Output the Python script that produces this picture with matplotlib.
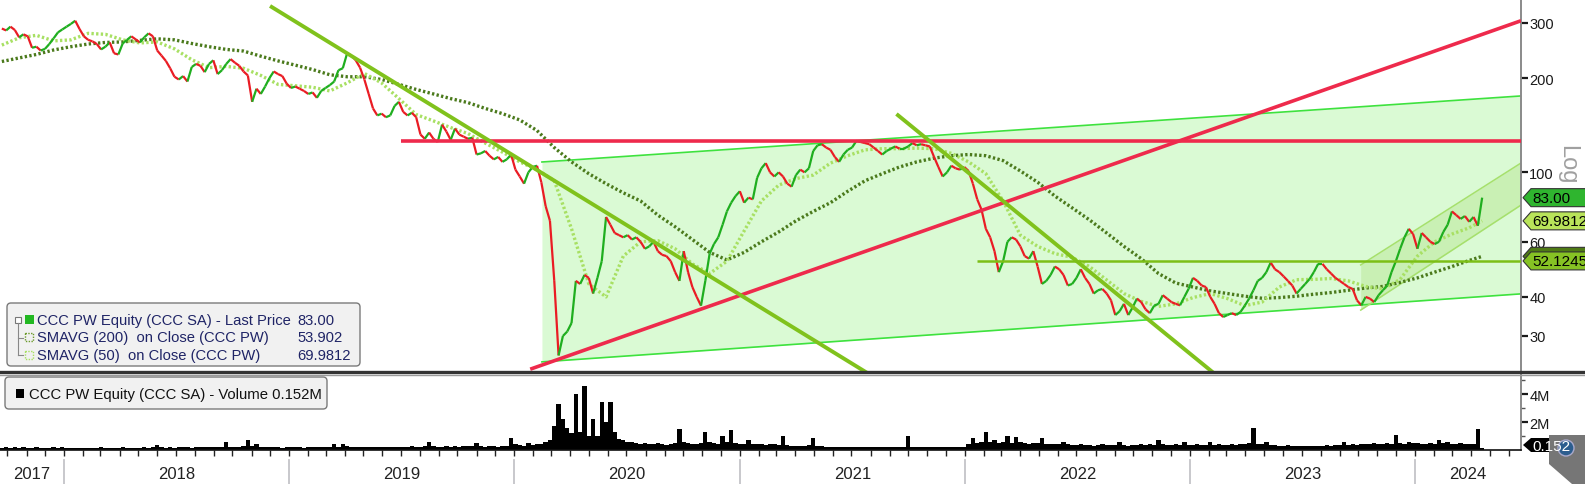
import numpy as np
import pandas as pd
import matplotlib
matplotlib.use("Agg")
import matplotlib.pyplot as plt
import matplotlib.dates as mdates
from matplotlib.collections import LineCollection
from matplotlib.patches import FancyBboxPatch, Polygon, Rectangle, Circle
from matplotlib.transforms import Affine2D, blended_transform_factory
from matplotlib.ticker import FixedLocator, FixedFormatter, NullLocator

W, H = 1585, 485

# weekly closes (CCC PW), first week ending 2017-09-22
start_date = "2017-09-22"
close = [
    288, 284, 292, 285, 270, 276, 272, 250, 252, 245,
    248, 257, 268, 280, 286, 292, 298, 305, 287, 272,
    265, 262, 257, 247, 252, 260, 240, 238, 258, 265,
    272, 266, 260, 270, 278, 272, 245, 236, 227, 215,
    202, 198, 203, 195, 217, 222, 219, 209, 222, 228,
    206, 212, 222, 230, 224, 219, 210, 204, 168, 185,
    178, 188, 200, 210, 206, 203, 192, 186, 188, 185,
    182, 178, 180, 173, 182, 186, 190, 195, 212, 215,
    240, 236, 228, 216, 198, 178, 160, 152, 154, 150,
    152, 163, 168, 156, 152, 155, 150, 132, 128, 134,
    128, 125, 142, 135, 127, 138, 132, 130, 128, 129,
    114, 115, 117, 113, 110, 112, 108, 110, 114, 102,
    97, 92, 100, 104, 105, 93, 78, 70, 45, 26,
    30, 31, 33, 45, 44, 47, 46, 41, 46, 52,
    72, 68, 64, 63, 62, 63, 61, 62, 60, 57,
    58, 60, 56, 54.5, 54, 52, 48, 45, 56, 48,
    43, 40, 37.5, 45, 55, 59, 62, 68, 75, 80,
    84, 87, 80, 83, 82, 96, 103, 107, 100, 97,
    100, 97, 92, 90, 98, 102, 100, 103, 117, 122,
    123, 120, 118, 112, 108, 114, 118, 120, 126, 125,
    124, 123, 120, 117, 114, 117, 119, 121, 119, 119,
    121, 124, 122, 123, 122, 121, 112, 104, 97, 100,
    105, 103, 102, 104, 101, 92, 82, 76, 66, 62,
    56, 48, 52, 60, 62, 61, 58, 54, 53, 56,
    50, 44, 45, 47, 50, 49, 47, 43.5, 44, 46,
    49, 46, 44, 41, 42, 42.4, 41, 39, 35, 36,
    38, 35, 37, 39.5, 38.5, 36.5, 35.5, 37.5, 38, 40.5,
    39.5, 38.5, 38, 37.6, 40, 42.5, 46, 45, 43.5, 43,
    40, 38, 35.5, 34.5, 35, 35.5, 35, 35.8, 37.5, 39.5,
    42, 45, 46, 48, 51.5, 49, 48, 46.5, 45, 43.5,
    41, 42.5, 44, 45.6, 48, 51, 51, 49, 47.5, 46,
    45, 44, 43, 42.4, 39, 37.6, 40, 39.5, 38.5, 40.5,
    42, 43.5, 48, 52, 57, 62, 66, 63.5, 57, 64,
    62, 60, 59, 60, 64.5, 68, 75, 73, 71, 72.5,
    69.5, 72, 67.5, 83,
]

# moving averages read every 4th week plus the last week
sma200 = [
    226, 232, 238, 246, 252, 257, 260, 261, 264, 267,
    265, 258, 252, 247, 244, 235, 227, 220, 213, 205,
    202, 202, 198, 191, 184, 178, 172, 167, 160, 154,
    147, 136, 120, 108, 99, 92, 86, 81, 73, 67,
    61, 55.5, 52.5, 55.5, 60, 64.5, 70, 75, 80, 87,
    94, 99, 104, 108, 111, 113, 114, 113, 109, 101,
    93, 84, 77, 70.5, 64, 58, 53, 47.5, 44.3, 43,
    41.8, 41, 40.2, 39.6, 39.8, 40.2, 40.8, 41.3, 42, 42.7,
    43.2, 44.5, 46, 48, 50, 52.3, 53.9,
]
sma50 = [
    255, 269, 274, 263, 265, 278, 276, 265, 259, 261,
    248, 229, 216, 218, 215, 204, 191, 189, 187, 182,
    193, 207, 193, 172, 153, 146, 139, 133, 124, 116,
    108, 102, 94, 66, 44, 40, 54, 60, 60.5, 57,
    51, 47.5, 52, 65, 81, 91, 95.5, 98, 107, 113,
    118, 119, 119, 119.5, 119, 115, 108, 99, 81, 63,
    58, 55, 53.5, 50, 45.3, 41, 38.7, 37.3, 38, 39.8,
    41, 39.5, 37.5, 38.5, 43, 45.4, 45.5, 45.8, 45, 43.2,
    42.4, 45.5, 54, 60, 63.5, 66.5, 70,
]

# weekly volume, millions of shares
volume_m = [
    0.15, 0.18, 0.14, 0.2, 0.16, 0.22, 0.15, 0.17, 0.19, 0.14,
    0.16, 0.13, 0.18, 0.15, 0.2, 0.14, 0.17, 0.15, 0.13, 0.16,
    0.14, 0.12, 0.15, 0.18, 0.13, 0.15, 0.16, 0.14, 0.2, 0.15,
    0.17, 0.14, 0.16, 0.19, 0.15, 0.22, 0.35, 0.2, 0.16, 0.18,
    0.17, 0.22, 0.18, 0.2, 0.16, 0.24, 0.2, 0.18, 0.22, 0.19,
    0.21, 0.25, 0.55, 0.22, 0.2, 0.18, 0.3, 0.7, 0.28, 0.4,
    0.25, 0.2, 0.22, 0.18, 0.2, 0.17, 0.22, 0.19, 0.2, 0.18,
    0.16, 0.2, 0.18, 0.22, 0.2, 0.19, 0.24, 0.4, 0.22, 0.4,
    0.3, 0.25, 0.22, 0.2, 0.24, 0.18, 0.22, 0.25, 0.2, 0.22,
    0.21, 0.19, 0.24, 0.2, 0.22, 0.26, 0.2, 0.23, 0.28, 0.6,
    0.3, 0.25, 0.22, 0.28, 0.24, 0.3, 0.22, 0.26, 0.3, 0.28,
    0.5, 0.26, 0.24, 0.3, 0.27, 0.25, 0.3, 0.28, 0.85, 0.4,
    0.35, 0.3, 0.5, 0.35, 0.4, 0.45, 0.6, 0.7, 1.7, 3.3,
    2.2, 1.6, 1.2, 4.0, 1.3, 4.6, 1.0, 2.2, 1.0, 3.4,
    2.0, 3.4, 1.3, 0.8, 0.7, 0.55, 0.6, 0.5, 0.45, 0.5,
    0.4, 0.45, 0.5, 0.42, 0.38, 0.45, 0.5, 1.5, 0.6, 0.5,
    0.45, 0.4, 0.5, 1.3, 0.55, 0.5, 0.45, 1.0, 0.6, 1.4,
    0.5, 0.45, 0.4, 0.7, 0.42, 0.4, 0.45, 0.38, 0.42, 0.4,
    0.38, 1.0, 0.35, 0.3, 0.32, 0.28, 0.3, 0.33, 0.85, 0.3,
    0.28, 0.25, 0.22, 0.25, 0.2, 0.23, 0.25, 0.22, 0.2, 0.24,
    0.22, 0.2, 0.25, 0.22, 0.2, 0.24, 0.21, 0.2, 0.23, 0.22,
    1.0, 0.25, 0.22, 0.2, 0.24, 0.22, 0.2, 0.22, 0.25, 0.2,
    0.18, 0.2, 0.22, 0.2, 0.45, 0.85, 0.5, 0.6, 1.3, 0.55,
    0.7, 0.5, 0.55, 1.0, 0.5, 0.9, 0.55, 0.5, 0.45, 0.5,
    0.48, 0.85, 0.45, 0.4, 0.42, 0.45, 0.6, 0.4, 0.38, 0.35,
    0.4, 0.35, 0.38, 0.32, 0.35, 0.4, 0.33, 0.35, 0.38, 0.6,
    0.35, 0.32, 0.38, 0.35, 0.4, 0.36, 0.42, 0.38, 0.7, 0.4,
    0.35, 0.38, 0.42, 0.36, 0.55, 0.38, 0.35, 0.4, 0.36, 0.38,
    0.55, 0.36, 0.4, 0.35, 0.38, 0.42, 0.36, 0.4, 0.45, 0.5,
    1.6, 0.45, 0.4, 0.55, 0.38, 0.35, 0.32, 0.3, 0.33, 0.3,
    0.28, 0.3, 0.32, 0.3, 0.28, 0.32, 0.3, 0.35, 0.32, 0.38,
    0.35, 0.6, 0.38, 0.4, 0.36, 0.42, 0.45, 0.4, 0.48, 0.42,
    0.45, 0.5, 0.42, 1.1, 0.5, 0.45, 0.55, 0.48, 0.5, 0.45,
    0.42, 0.5, 0.45, 0.7, 0.48, 0.55, 0.45, 0.42, 0.5, 0.45,
    0.42, 0.45, 1.5, 0.152,
]

# hand-drawn studies: (dates, prices)
red_level = (["2019-07-01", "2024-06-21"], [125.5, 125.5])
red_trend = (["2020-01-27", "2024-06-21"], [23.5, 305])
green_trend_1 = (["2018-12-01", "2021-08-11"], [340, 21.9])
green_trend_2 = (["2021-09-12", "2023-02-20"], [153.6, 21.9])
olive_level = (["2022-01-20", "2024-06-21"], [52.1245, 52.1245])
channel_dates = ["2020-02-15", "2024-06-21"]
channel_top = [107.9, 175.4]
channel_bottom = [24.8, 40.9]
small_dates = ["2023-10-05", "2024-06-21"]
small_top = [50.6, 107.1]
small_bottom = [36.3, 78.6]

# last-value tags; the 53.902 tag sits almost fully under the 52.1245 one
last_labels = [("", 53.902, "#4f7a14"), ("52.1245", 52.1245, "#86c224"),
               ("69.9812", 69.9812, "#b9e45a"), ("83.00", 83.00, "#2fb52f")]

years = [2017, 2018, 2019, 2020, 2021, 2022, 2023, 2024]
x_start, x_end = "2017-09-19", "2024-06-21"

FONT = "Liberation Sans"
plt.rcParams["font.family"] = [FONT, "DejaVu Sans"]


def d(s):
    return mdates.date2num(pd.Timestamp(s))


fig = plt.figure(figsize=(W / 100, H / 100), dpi=100)
px = Affine2D().scale(1 / W, -1 / H).translate(0, 1) + fig.transFigure

ax = fig.add_axes([0, 1 - 372 / H, 1521 / W, 372 / H])
axv = fig.add_axes([0, 1 - 451 / H, 1521 / W, 76 / H], sharex=ax)

ax.set_yscale("log")
ax.set_ylim(23.19, 357.9)
ax.set_xlim(d(x_start), d(x_end))

dates = pd.date_range(start_date, periods=len(close), freq="7D")
xn = mdates.date2num(dates)
sma_idx = list(range(0, len(close), 4)) + [len(close) - 1]
xs = xn[sma_idx]

# channels
cx = [d(s) for s in channel_dates]
ax.fill_between(cx, channel_bottom, channel_top, color="#dafad4", lw=0, zorder=1)
ax.plot(cx, channel_top, color="#3ee23e", lw=1.2, zorder=2)
ax.plot(cx, channel_bottom, color="#3ee23e", lw=1.2, zorder=2)
sx = [d(s) for s in small_dates]
ax.fill_between(sx, small_bottom, small_top, color="#c9f0b4", lw=0, zorder=1.5)
ax.plot(sx, small_top, color="#a6e06c", lw=1.1, zorder=2)
ax.plot(sx, small_bottom, color="#a6e06c", lw=1.1, zorder=2)

# moving averages
ax.plot(xs, sma200, color="#4b7a1c", lw=2.4, ls=(0, (0.7, 0.7)), zorder=3)
ax.plot(xs, sma50, color="#a8e063", lw=2.4, ls=(0, (0.7, 0.7)), zorder=3)

# price
pts = np.column_stack([xn, close])
segs = np.stack([pts[:-1], pts[1:]], axis=1)
cols = np.where(np.diff(close) >= 0, "#1fae1f", "#ea1c24")
ax.add_collection(LineCollection(segs, colors=cols, linewidths=1.6, zorder=4))

# trend lines
for (ds, ps), c, lw in [(red_level, "#ee2a4c", 2.6), (red_trend, "#ee2a4c", 2.6),
                        (green_trend_1, "#80c21c", 2.8), (green_trend_2, "#80c21c", 2.8),
                        (olive_level, "#7cbf16", 1.8)]:
    ax.plot([d(s) for s in ds], ps, color=c, lw=lw, zorder=5, solid_capstyle="butt")

# price axis styling
ax.yaxis.tick_right()
ax.yaxis.set_major_locator(FixedLocator([30, 40, 60, 100, 200, 300]))
ax.yaxis.set_major_formatter(FixedFormatter(["30", "40", "60", "100", "200", "300"]))
ax.yaxis.set_minor_locator(NullLocator())
ax.tick_params(axis="y", direction="out", length=5, width=1.6, colors="#1a1a1a",
               labelsize=10.5, pad=1)
ax.tick_params(axis="x", bottom=False, labelbottom=False)
for s in ["left", "top", "bottom"]:
    ax.spines[s].set_visible(False)
ax.spines["right"].set_color("#8a8a8a")
ax.spines["right"].set_linewidth(1.4)

# volume
axv.bar(xn, volume_m, width=7, color="black", lw=0)
axv.set_ylim(0, 5.43)
axv.yaxis.tick_right()
axv.yaxis.set_major_locator(FixedLocator([2, 4]))
axv.yaxis.set_major_formatter(FixedFormatter(["2M", "4M"]))
axv.yaxis.set_minor_locator(FixedLocator([1, 3, 5]))
axv.tick_params(axis="y", which="major", direction="out", length=5, width=1.6,
                colors="#1a1a1a", labelsize=10.5, pad=1)
axv.tick_params(axis="y", which="minor", direction="out", length=3, width=1, colors="#555")
axv.xaxis.set_major_locator(mdates.MonthLocator())
axv.tick_params(axis="x", direction="out", length=4, width=1, colors="#222", labelbottom=False)
for s in ["left", "top"]:
    axv.spines[s].set_visible(False)
axv.spines["right"].set_color("#8a8a8a")
axv.spines["right"].set_linewidth(1.4)
axv.spines["bottom"].set_color("#111")
axv.spines["bottom"].set_linewidth(1.2)

# year labels and separators
bt = blended_transform_factory(axv.transData, px)
x0, x1 = d(x_start), d(x_end)
for y in years:
    a = max(d(f"{y}-01-01"), x0)
    b = min(d(f"{y + 1}-01-01"), x1)
    axv.text((a + b) / 2, 475, str(y), transform=bt, ha="center", va="center",
             fontsize=12, color="#222")
    if y > years[0]:
        axv.plot([a, a], [461, 485], transform=bt, color="#c4c4c8", lw=1.3, clip_on=False)

# panel separator
fig.add_artist(plt.Line2D([0, W], [373, 373], transform=px, color="#333", lw=2.4))
fig.add_artist(plt.Line2D([0, W], [375.5, 375.5], transform=px, color="#9a9a9a", lw=1))

# last value tags on the price axis
fig.canvas.draw()
for txt, val, c in last_labels:
    yc = H - ax.transData.transform((x1, val))[1]
    poly = Polygon([(1523, yc), (1531, yc - 9), (1590, yc - 9), (1590, yc + 9), (1531, yc + 9)],
                   closed=True, transform=px, facecolor=c, edgecolor="#333", lw=0.8)
    fig.add_artist(poly)
    if txt:
        fig.text(1532 / W, 1 - yc / H, txt, fontsize=11, color="black", va="center", ha="left")

# volume tag and corner widget
fig.add_artist(Polygon([(1523, 446), (1531, 439), (1575, 439), (1575, 453), (1531, 453)],
                       closed=True, transform=px, facecolor="black", lw=0))
fig.text(1532 / W, 1 - 447 / H, "0.152", fontsize=11, color="white", va="center")
fig.add_artist(Polygon([(1549, 436), (1585, 436), (1585, 485), (1572, 485), (1549, 465)],
                       closed=True, transform=px, facecolor="#767676", lw=0))
fig.add_artist(Circle((1566, 449), 8, transform=px, facecolor="#2c5d8e", edgecolor="#aac", lw=1))

fig.text(1567 / W, 1 - 165 / H, "Log", rotation=-90, fontsize=17, color="#a0a0a0",
         ha="center", va="center")

# legend boxes
navy = "#1f2466"
fig.add_artist(FancyBboxPatch((7, 304), 353, 63, boxstyle="round,pad=0,rounding_size=4",
                              transform=px, facecolor="#f1f1f1", edgecolor="#7a7a7a", lw=1))
rows = [("CCC PW Equity (CCC SA) - Last Price", "83.00"),
        ("SMAVG (200)  on Close (CCC PW)", "53.902"),
        ("SMAVG (50)  on Close (CCC PW)", "69.9812")]
for i, (lab, val) in enumerate(rows):
    yy = 321 + 17.5 * i
    fig.text(37 / W, 1 - yy / H, lab, fontsize=10.6, color=navy, va="center")
    fig.text(297 / W, 1 - yy / H, val, fontsize=10.6, color=navy, va="center")
fig.add_artist(Rectangle((15, 318), 6, 6, transform=px, facecolor="white", edgecolor="#777", lw=0.8))
fig.add_artist(plt.Line2D([18, 18], [324, 356], transform=px, color="#888", lw=0.8))
for yy in (338.5, 356):
    fig.add_artist(plt.Line2D([18, 23], [yy, yy], transform=px, color="#888", lw=0.8))
fig.add_artist(Rectangle((25, 316), 9, 9, transform=px, facecolor="#22b822", lw=0))
fig.add_artist(Rectangle((25, 334), 8, 8, transform=px, facecolor="none", edgecolor="#6c9a2c",
                         lw=1, ls=(0, (1, 1))))
fig.add_artist(Rectangle((25, 352), 8, 8, transform=px, facecolor="none", edgecolor="#a8e063",
                         lw=1, ls=(0, (1, 1))))

fig.add_artist(FancyBboxPatch((5, 378), 322, 32, boxstyle="round,pad=0,rounding_size=4",
                              transform=px, facecolor="#f1f1f1", edgecolor="#7a7a7a", lw=1))
fig.add_artist(Rectangle((16, 390), 8, 9, transform=px, facecolor="black", lw=0))
fig.text(29 / W, 1 - 395 / H, "CCC PW Equity (CCC SA) - Volume 0.152M", fontsize=10.7,
         color="#111", va="center")

fig.savefig("out.png", dpi=100)
